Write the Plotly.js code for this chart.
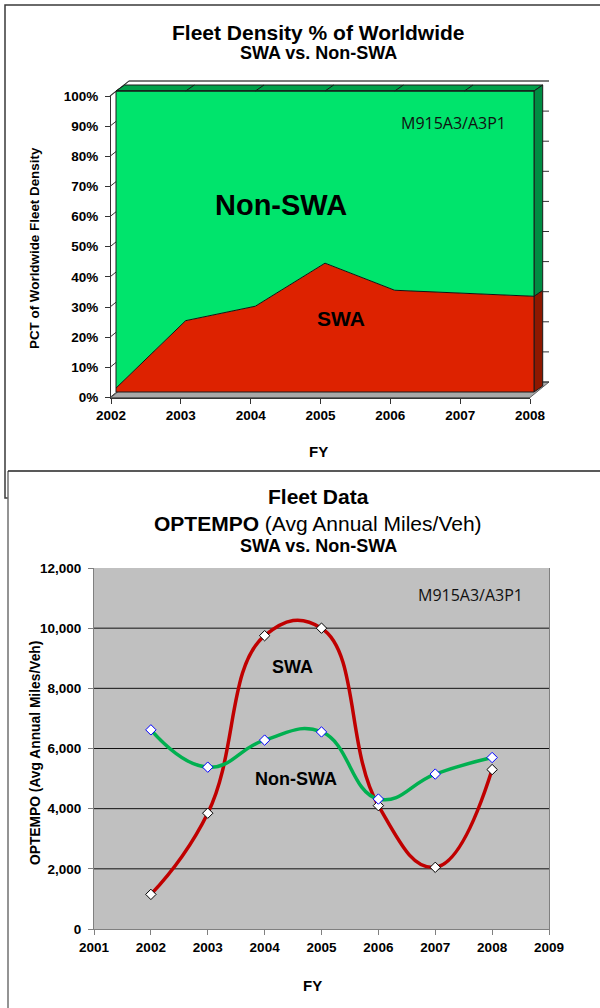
<!DOCTYPE html>
<html>
<head>
<meta charset="utf-8">
<script src="https://cdn.plot.ly/plotly-3.0.1.min.js"></script>
<style>
  html, body { margin: 0; padding: 0; background: #fff; }
  #chart { width: 600px; height: 1008px; }
</style>
</head>
<body>
<div id="chart"></div>
<script>
// ---------------- DATA ----------------
const densityYears = [2002, 2003, 2004, 2005, 2006, 2007, 2008];
const swaPct      = [1.3, 23.7, 28.5, 42.8, 33.8, 32.8, 31.8];
const nonSwaPct   = [98.7, 76.3, 71.5, 57.2, 66.2, 67.2, 68.2];
const pctTicks    = [0, 10, 20, 30, 40, 50, 60, 70, 80, 90, 100];

const optYears    = [2002, 2003, 2004, 2005, 2006, 2007, 2008];
const swaMiles    = [1150, 3850, 9750, 10000, 4100, 2050, 5300];
const nonSwaMiles = [6620, 5380, 6280, 6550, 4320, 5150, 5700];
const milesTicks  = [0, 2000, 4000, 6000, 8000, 10000, 12000];
const milesGrid   = [2000, 4000, 6000, 8000, 10000];
const fyTicks     = [2001, 2002, 2003, 2004, 2005, 2006, 2007, 2008, 2009];

const modelLabel = 'M915A3/A3P1';

// ---------------- LAYOUT HELPERS ----------------
const W = 600, H = 1008;
const px = v => v / W;
const py = v => 1 - v / H;
const FONT = 'Liberation Sans, Arial, Helvetica, sans-serif';
const CAL = 'Open Sans, Noto Sans, sans-serif';

// Top chart front face geometry (pixels)
const FX0 = 116, FX1 = 534, FY0 = 392, FY100 = 91;
const pxPerYear = (FX1 - FX0) / (densityYears[densityYears.length - 1] - densityYears[0]);
const pxPerPct = (FY0 - FY100) / 100;
// data-axis domain (pixels), larger than front face so 3D faces fit
const DX0 = 100, DX1 = 556, DYT = 74, DYB = 402;
const y0yr = densityYears[0], y1yr = densityYears[densityYears.length - 1];
const dataXRange = [y0yr - (FX0 - DX0) / pxPerYear, y1yr + (DX1 - FX1) / pxPerYear];
const dataYRange = [-(DYB - FY0) / pxPerPct, 100 + (FY100 - DYT) / pxPerPct];
const depthX = 8.7 / pxPerYear, depthY = 6 / pxPerPct;

function pathPaper(points) {
  return points.map((p, i) => (i ? 'L' : 'M') + px(p[0]) + ',' + py(p[1])).join(' ') + '';
}
function pathData(points, close) {
  return points.map((p, i) => (i ? 'L' : 'M') + p[0] + ',' + p[1]).join(' ') + (close ? ' Z' : '');
}

const swaLast = swaPct[swaPct.length - 1];
const shapes = [];

// Frames
shapes.push({type: 'path', xref: 'paper', yref: 'paper', layer: 'below',
  path: pathPaper([[8, 498], [5, 498], [5, 5], [610, 5]]), line: {color: '#3a3a3a', width: 1.5}});
shapes.push({type: 'path', xref: 'paper', yref: 'paper', layer: 'below',
  path: pathPaper([[8, 1012], [8, 471]]), line: {color: '#707070', width: 1.5}});
shapes.push({type: 'path', xref: 'paper', yref: 'paper', layer: 'below',
  path: pathPaper([[8, 471], [610, 471]]), line: {color: '#222', width: 1.5}});

// Top chart: floor
shapes.push({type: 'path', xref: 'paper', yref: 'paper', layer: 'below',
  path: pathPaper([[111, 397.5], [530, 397.5], [549, 382], [130, 382]]) + ' Z',
  fillcolor: '#A8A8A8', line: {color: '#606060', width: 1}});
// back wall top line and left wall top edge
shapes.push({type: 'path', xref: 'paper', yref: 'paper', layer: 'below',
  path: pathPaper([[110, 96], [129, 81], [549, 81]]), line: {color: '#8a8a8a', width: 1.2}});
// wall gridlines
pctTicks.forEach(t => {
  const yb = 382 - t * (382 - 81) / 100;
  const yl = 397.5 - t * (397.5 - 96) / 100;
  shapes.push({type: 'path', xref: 'paper', yref: 'paper', layer: 'below',
    path: pathPaper([[110, yl], [129, yb], [549, yb]]), line: {color: '#333', width: 1}});
});

// Top chart: 3D faces in data coordinates of hidden data axes
shapes.push({type: 'path', xref: 'x', yref: 'y', layer: 'below',
  path: pathData([[y0yr, 100], [y0yr + depthX, 100 + depthY], [y1yr + depthX, 100 + depthY], [y1yr, 100]], true),
  fillcolor: '#00A04A', line: {color: '#1a1a1a', width: 1}});
densityYears.slice(1, -1).forEach(yr => {
  shapes.push({type: 'line', xref: 'x', yref: 'y', layer: 'above',
    x0: yr, y0: 100, x1: yr + depthX, y1: 100 + depthY, line: {color: '#1a1a1a', width: 1}});
});
shapes.push({type: 'path', xref: 'x', yref: 'y', layer: 'below',
  path: pathData([[y1yr, 0], [y1yr + depthX, depthY], [y1yr + depthX, swaLast + depthY], [y1yr, swaLast]], true),
  fillcolor: '#8E1800', line: {color: '#1a1a1a', width: 1}});
shapes.push({type: 'path', xref: 'x', yref: 'y', layer: 'below',
  path: pathData([[y1yr, swaLast], [y1yr + depthX, swaLast + depthY], [y1yr + depthX, 100 + depthY], [y1yr, 100]], true),
  fillcolor: '#008C42', line: {color: '#1a1a1a', width: 1}});
shapes.push({type: 'rect', xref: 'x', yref: 'y', layer: 'above',
  x0: y0yr, x1: y1yr, y0: 0, y1: 100, fillcolor: 'rgba(0,0,0,0)', line: {color: '#1a1a1a', width: 1}});

// Bottom chart: plot background and gridlines
shapes.push({type: 'rect', xref: 'x2 domain', yref: 'y2 domain', layer: 'below',
  x0: 0, x1: 1, y0: 0, y1: 1, fillcolor: '#C0C0C0', line: {width: 0}});
milesGrid.forEach(v => {
  shapes.push({type: 'line', xref: 'x2 domain', yref: 'y2', layer: 'below',
    x0: 0, x1: 1, y0: v, y1: v, line: {color: '#111', width: 1}});
});

// ---------------- TRACES ----------------
const traces = [
  {type: 'scatter', x: densityYears, y: swaPct, xaxis: 'x', yaxis: 'y', stackgroup: 'dens',
   mode: 'lines', line: {color: '#111', width: 1}, fillcolor: '#DD2200', hoverinfo: 'skip'},
  {type: 'scatter', x: densityYears, y: nonSwaPct, xaxis: 'x', yaxis: 'y', stackgroup: 'dens',
   mode: 'lines', line: {color: '#111', width: 1}, fillcolor: '#00E46C', hoverinfo: 'skip'},
  {type: 'scatter', x: [], y: [], xaxis: 'x3', yaxis: 'y3', mode: 'markers', hoverinfo: 'skip'},
  {type: 'scatter', x: optYears, y: swaMiles, xaxis: 'x2', yaxis: 'y2', mode: 'lines+markers',
   line: {color: '#C00000', width: 3.5, shape: 'spline', smoothing: 1.3},
   marker: {symbol: 'diamond', size: 8, color: '#fff', line: {color: '#000', width: 1}}, hoverinfo: 'skip'},
  {type: 'scatter', x: optYears, y: nonSwaMiles, xaxis: 'x2', yaxis: 'y2', mode: 'lines+markers',
   line: {color: '#00B050', width: 3.5, shape: 'spline', smoothing: 1.3},
   marker: {symbol: 'diamond', size: 8, color: '#fff', line: {color: '#0000FF', width: 1}}, hoverinfo: 'skip'}
];

const tickFont = {family: FONT, size: 13.5, color: '#000', weight: 'bold'};

function ann(text, x, y, size, extra) {
  return Object.assign({xref: 'paper', yref: 'paper', x: px(x), y: py(y), text: text, showarrow: false,
    xanchor: 'center', yanchor: 'middle',
    font: {family: FONT, size: size, color: '#000', weight: 'bold'}}, extra || {});
}

const annotations = [
  ann('Fleet Density % of Worldwide', 318, 32, 21),
  ann('SWA vs. Non-SWA', 318, 53, 18),
  ann('PCT of Worldwide Fleet Density', 34, 248, 13.4, {textangle: -90}),
  ann('FY', 318, 452, 15),
  ann(modelLabel, 453, 123, 16, {font: {family: CAL, size: 16, color: '#111', weight: 'normal'}}),
  ann('Non-SWA', 281, 205, 29),
  ann('SWA', 341, 318, 21),

  ann('Fleet Data', 318, 496, 21),
  ann('<b>OPTEMPO</b> (Avg Annual Miles/Veh)', 318, 523, 21, {font: {family: FONT, size: 21, color: '#000', weight: 'normal'}}),
  ann('SWA vs. Non-SWA', 318, 546, 18),
  ann('OPTEMPO (Avg Annual Miles/Veh)', 35, 753, 13.8, {textangle: -90}),
  ann('FY', 312, 985, 15),
  ann(modelLabel, 470, 595, 16, {font: {family: CAL, size: 16, color: '#111', weight: 'normal'}}),
  ann('SWA', 292, 667, 18),
  ann('Non-SWA', 296, 779, 18)
];

const layout = {
  width: W, height: H, autosize: false,
  margin: {l: 0, r: 0, t: 0, b: 0, pad: 0},
  paper_bgcolor: '#fff', plot_bgcolor: 'rgba(0,0,0,0)',
  showlegend: false,
  font: {family: FONT},
  // hidden data axes for the 3D area chart
  xaxis: {domain: [px(DX0), px(DX1)], range: dataXRange, visible: false, anchor: 'y', fixedrange: true},
  yaxis: {domain: [py(DYB), py(DYT)], range: dataYRange, visible: false, anchor: 'x', fixedrange: true},
  // visible label axes for the 3D area chart
  xaxis3: {domain: [px(111), px(530)], range: [y0yr, y1yr], anchor: 'y3',
    tickvals: densityYears, ticktext: densityYears.map(String), ticks: 'outside', ticklen: 5,
    tickcolor: '#333', showline: true, linecolor: '#333', linewidth: 1, showgrid: false, zeroline: false,
    tickfont: tickFont, ticklabelstandoff: 0, fixedrange: true},
  yaxis3: {domain: [py(397.5), py(96)], range: [0, 100], anchor: 'x3',
    tickvals: pctTicks, ticktext: pctTicks.map(v => v + '%'), ticks: 'outside', ticklen: 5,
    tickcolor: '#333', showline: true, linecolor: '#333', linewidth: 1, showgrid: false, zeroline: false,
    tickfont: tickFont, ticklabelstandoff: 4, fixedrange: true},
  // OPTEMPO chart
  xaxis2: {domain: [px(94), px(549)], range: [fyTicks[0], fyTicks[fyTicks.length - 1]], anchor: 'y2',
    tickvals: fyTicks, ticktext: fyTicks.map(String), ticks: 'outside', ticklen: 5,
    tickcolor: '#808080', showline: true, linecolor: '#808080', linewidth: 1, showgrid: false, zeroline: false,
    tickfont: tickFont, ticklabelstandoff: 1, fixedrange: true},
  yaxis2: {domain: [py(929), py(568)], range: [milesTicks[0], milesTicks[milesTicks.length - 1]], anchor: 'x2',
    tickvals: milesTicks, tickformat: ',d', ticks: 'outside', ticklen: 5,
    tickcolor: '#808080', showline: true, mirror: true, linecolor: '#808080', linewidth: 1, showgrid: false, zeroline: false,
    tickfont: tickFont, ticklabelstandoff: 4, fixedrange: true},
  shapes: shapes,
  annotations: annotations
};

Plotly.newPlot('chart', traces, layout, {staticPlot: true, displayModeBar: false});
</script>
</body>
</html>
